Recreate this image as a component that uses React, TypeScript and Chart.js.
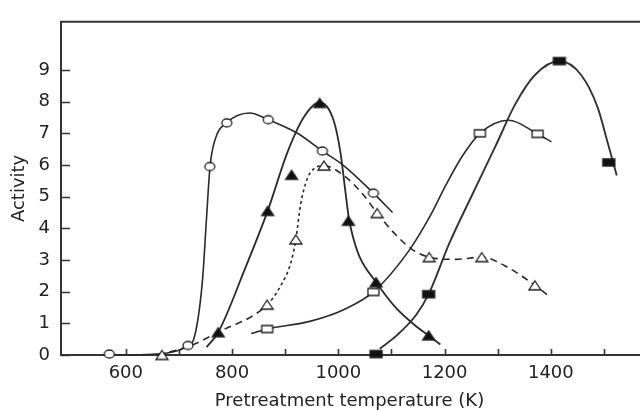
import React, { useEffect, useRef } from "react";
import { Chart, registerables } from "chart.js";

Chart.register(...registerables);

// ---- axis ticks ----
const xTickMarks = [600, 700, 800, 900, 1000, 1100, 1200, 1300, 1400, 1500];
const xTickLabels = [600, 800, 1000, 1200, 1400];
const yTickLabels = [0, 1, 2, 3, 4, 5, 6, 7, 8, 9];

// ---- open circles (solid curve) ----
const circleX = [569, 717, 758, 790, 868, 970, 1066];
const circleY = [0.03, 0.3, 5.95, 7.33, 7.43, 6.44, 5.11];
const circleCurveX = [575, 650, 700, 718, 727, 744, 752, 758.5, 768, 789.5, 833, 868, 923, 970, 1010, 1066, 1102];
const circleCurveY = [0.0, 0.02, 0.15, 0.31, 0.46, 2.3, 4.35, 5.95, 6.8, 7.33, 7.64, 7.43, 7.0, 6.44, 5.98, 5.11, 4.5];

// ---- filled triangles (solid curve) ----
const fTriX = [774, 867, 912, 965, 1019, 1071, 1170];
const fTriY = [0.72, 4.55, 5.69, 7.96, 4.24, 2.3, 0.62];
const fTriCurveX = [752, 774, 824, 867, 904, 935.5, 965, 991, 1004, 1013, 1020, 1028, 1040, 1071, 1109, 1147, 1170, 1192];
const fTriCurveY = [0.25, 0.72, 2.71, 4.55, 6.39, 7.52, 7.98, 7.41, 6.39, 5.2, 4.3, 3.7, 3.1, 2.3, 1.48, 0.9, 0.61, 0.33];

// ---- open triangles (dashed curve) ----
const oTriX = [668, 866, 920, 973, 1073, 1171, 1270, 1370];
const oTriY = [0.0, 1.59, 3.65, 5.98, 4.48, 3.09, 3.09, 2.2];
const oTriCurveX = [660, 718, 774, 866, 892, 910.5, 920, 929, 941.6, 954, 973, 1010, 1047, 1073, 1109, 1140, 1171, 1221, 1270, 1314, 1370, 1398];
const oTriCurveY = [0.0, 0.27, 0.72, 1.59, 2.2, 2.91, 3.65, 4.75, 5.57, 5.88, 5.98, 5.67, 5.06, 4.48, 3.78, 3.32, 3.09, 3.02, 3.09, 2.81, 2.2, 1.84];

// ---- open squares (solid curve) ----
const oSqX = [866, 1066, 1266.5, 1375];
const oSqY = [0.82, 1.99, 7.0, 6.98];
const oSqCurveX = [836, 866, 948, 1010, 1066, 1134, 1171.5, 1202.6, 1233.7, 1266.5, 1320.5, 1375, 1401];
const oSqCurveY = [0.68, 0.82, 1.07, 1.43, 1.99, 3.32, 4.35, 5.37, 6.29, 7.0, 7.41, 6.98, 6.73];

// ---- filled squares (solid curve) ----
const fSqX = [1071, 1170, 1416, 1509];
const fSqY = [0.03, 1.92, 9.28, 6.08];
const fSqCurveX = [1078, 1110, 1147, 1170, 1209, 1252, 1296, 1333, 1370, 1416, 1457, 1488, 1507, 1524];
const fSqCurveY = [0.2, 0.62, 1.28, 1.92, 3.53, 5.06, 6.6, 7.92, 8.84, 9.28, 8.84, 7.82, 6.7, 5.67];

const LINE = "#2a2a2a";
const FONT = "'DejaVu Sans', 'Liberation Sans', Arial, sans-serif";

function pts(xs: number[], ys: number[]) {
  return xs.map((x, i) => ({ x, y: ys[i] }));
}

function makeMarker(shape: string, filled: boolean, w: number, h: number) {
  const pad = 2;
  const c = document.createElement("canvas");
  c.width = w + pad * 2;
  c.height = h + pad * 2;
  const ctx = c.getContext("2d")!;
  ctx.lineWidth = 1.3;
  ctx.strokeStyle = "#1e1e1e";
  ctx.fillStyle = filled ? "#111" : "#fff";
  ctx.beginPath();
  if (shape === "circle") {
    ctx.ellipse(c.width / 2, c.height / 2, w / 2, h / 2, 0, 0, Math.PI * 2);
  } else if (shape === "triangle") {
    ctx.moveTo(c.width / 2, pad);
    ctx.lineTo(pad + w, pad + h);
    ctx.lineTo(pad, pad + h);
    ctx.closePath();
  } else {
    ctx.rect(pad, pad, w, h);
  }
  ctx.fill();
  ctx.stroke();
  return c;
}

const framePlugin = {
  id: "frame",
  beforeDatasetsDraw(chart: any) {
    const { ctx, chartArea } = chart;
    const xs = chart.scales.x;
    const ys = chart.scales.y;
    ctx.save();
    ctx.strokeStyle = "#333";
    ctx.lineWidth = 2;
    ctx.beginPath();
    ctx.moveTo(chartArea.right + 2, chartArea.top);
    ctx.lineTo(chartArea.left, chartArea.top);
    ctx.lineTo(chartArea.left, chartArea.bottom);
    ctx.lineTo(chartArea.right + 2, chartArea.bottom);
    ctx.stroke();
    ctx.lineWidth = 1.6;
    ctx.beginPath();
    for (const v of xTickMarks) {
      const px = Math.round(xs.getPixelForValue(v)) + 0.5;
      ctx.moveTo(px, chartArea.bottom);
      ctx.lineTo(px, chartArea.bottom - 6);
    }
    for (const v of yTickLabels) {
      const py = Math.round(ys.getPixelForValue(v)) + 0.5;
      ctx.moveTo(chartArea.left, py);
      ctx.lineTo(chartArea.left + 9, py);
    }
    ctx.stroke();
    ctx.restore();
  },
};

export default function App() {
  const ref = useRef<HTMLCanvasElement | null>(null);

  useEffect(() => {
    if (!ref.current) return;
    const mCircle = makeMarker("circle", false, 10, 8);
    const mFTri = makeMarker("triangle", true, 12, 9);
    const mOTri = makeMarker("triangle", false, 12, 9);
    const mOSq = makeMarker("rect", false, 11, 7);
    const mFSq = makeMarker("rect", true, 12, 7);

    const curve = (xs: number[], ys: number[], extra: any = {}) => ({
      type: "line",
      data: pts(xs, ys),
      borderColor: LINE,
      borderWidth: 1.6,
      pointRadius: 0,
      fill: false,
      cubicInterpolationMode: "monotone",
      order: 2,
      clip: false,
      ...extra,
    });
    const marks = (xs: number[], ys: number[], img: HTMLCanvasElement) => ({
      type: "line",
      data: pts(xs, ys),
      showLine: false,
      pointStyle: img,
      pointRadius: 5,
      order: 0,
      clip: false,
    });

    const chart = new Chart(ref.current, {
      type: "line",
      data: {
        datasets: [
          curve(circleCurveX, circleCurveY) as any,
          curve(fTriCurveX, fTriCurveY, { borderWidth: 1.8 }) as any,
          curve(oTriCurveX, oTriCurveY, {
            borderDash: [7, 5],
            segment: {
              borderDash: (c: any) =>
                c.p0.parsed.x >= 860 && c.p1.parsed.x <= 975 ? [3, 3] : [7, 5],
            },
          }) as any,
          curve(oSqCurveX, oSqCurveY) as any,
          curve(fSqCurveX, fSqCurveY, { borderWidth: 1.9, borderColor: "#333" }) as any,
          marks(circleX, circleY, mCircle) as any,
          marks(fTriX, fTriY, mFTri) as any,
          marks(oTriX, oTriY, mOTri) as any,
          marks(oSqX, oSqY, mOSq) as any,
          marks(fSqX, fSqY, mFSq) as any,
        ],
      },
      options: {
        responsive: false,
        animation: false,
        events: [],
        layout: { padding: { top: 12, right: 0, left: 0, bottom: 0 } },
        plugins: { legend: { display: false }, tooltip: { enabled: false } },
        scales: {
          x: {
            type: "linear",
            min: 478,
            max: 1564,
            grid: { display: false, drawTicks: false },
            border: { display: false },
            afterBuildTicks: (s: any) => {
              s.ticks = xTickLabels.map((v) => ({ value: v }));
            },
            afterFit: (s: any) => {
              s.height = 55;
            },
            ticks: {
              color: "#222",
              font: { family: FONT, size: 18 },
              padding: 8,
              maxRotation: 0,
              autoSkip: false,
              callback: (v: any) => String(v),
            },
            title: {
              display: true,
              text: "Pretreatment temperature (K)",
              color: "#222",
              font: { family: FONT, size: 18, lineHeight: 1 },
              padding: { top: 0, bottom: 0 },
            },
          },
          y: {
            type: "linear",
            min: 0,
            max: 10.52,
            grid: { display: false, drawTicks: false },
            border: { display: false },
            afterBuildTicks: (s: any) => {
              s.ticks = yTickLabels.map((v) => ({ value: v }));
            },
            afterFit: (s: any) => {
              s.width = 61;
            },
            ticks: {
              color: "#222",
              font: { family: FONT, size: 18 },
              padding: 11,
              autoSkip: false,
              callback: (v: any) => String(v),
            },
            title: {
              display: true,
              text: "Activity",
              color: "#222",
              font: { family: FONT, size: 18, lineHeight: 1 },
              padding: { top: 10, bottom: 0 },
            },
          },
        },
      },
      plugins: [framePlugin],
    } as any);
    return () => chart.destroy();
  }, []);

  return (
    <div style={{ position: "fixed", left: 0, top: 0, width: 644, height: 410, background: "#fff" }}>
      <canvas ref={ref} width={644} height={410} style={{ width: 644, height: 410, display: "block" }} />
    </div>
  );
}
